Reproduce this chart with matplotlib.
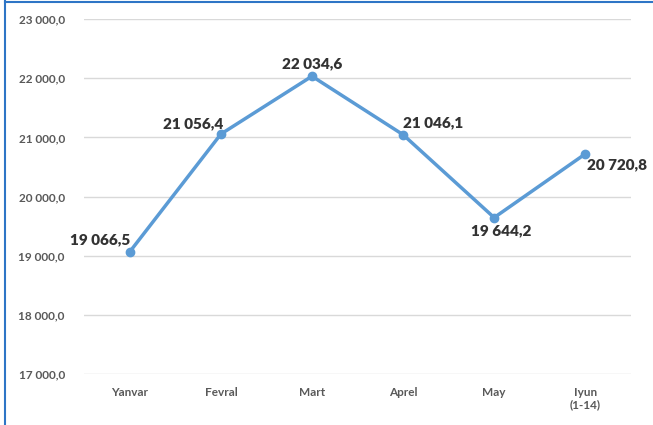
import matplotlib.pyplot as plt
from matplotlib.lines import Line2D

months = ['Yanvar', 'Fevral', 'Mart', 'Aprel', 'May', 'Iyun\n(1-14)']
values = [19066.5, 21056.4, 22034.6, 21046.1, 19644.2, 20720.8]
yticks = [17000, 18000, 19000, 20000, 21000, 22000, 23000]


def fmt(v):
    s = '{:,.1f}'.format(v)
    return s.replace(',', ' ').replace('.', ',')


plt.rcParams['font.family'] = ['Lato', 'DejaVu Sans']

fig = plt.figure(figsize=(6.53, 4.25), dpi=100)
ax = fig.add_axes([0.129, 0.12, 0.837, 0.835])

x = list(range(len(months)))
ax.plot(x, values, color='#5B9BD5', lw=2.5, marker='o', ms=6, zorder=3)

# label offsets in points (dx, dy, ha, va)
offs = [(0, 4, 'right', 'bottom'), (2, 3, 'right', 'bottom'),
        (0, 4, 'center', 'bottom'), (0, 4, 'left', 'bottom'),
        (5, -5, 'center', 'top'), (1, -3, 'left', 'top')]
for i, v in enumerate(values):
    dx, dy, ha, va = offs[i]
    ax.annotate(fmt(v), (i, v), xytext=(dx, dy), textcoords='offset points',
                ha=ha, va=va, fontsize=11, fontweight='heavy', color='#333333')

ax.set_xlim(-0.5, len(months) - 0.5)
ax.set_ylim(17000, 23000)
ax.set_yticks(yticks)
ax.set_yticklabels([fmt(t) for t in yticks], fontsize=8.5, fontweight='bold', color='#595959')
ax.set_xticks(x)
ax.set_xticklabels(months, fontsize=8.5, fontweight='bold', color='#595959')
ax.tick_params(length=0)
ax.tick_params(axis='x', pad=9)
ax.tick_params(axis='y', pad=14)
ax.grid(axis='y', color='#D9D9D9', lw=1)
ax.set_axisbelow(True)
for s in ax.spines.values():
    s.set_visible(False)

# blue frame on left and top edges
fig.add_artist(Line2D([0.008, 0.008], [0, 1], color='#2E75C6', lw=1.5, transform=fig.transFigure))
fig.add_artist(Line2D([0.008, 1], [0.996, 0.996], color='#2E75C6', lw=1.5, transform=fig.transFigure))

fig.savefig('out.png', dpi=100)
